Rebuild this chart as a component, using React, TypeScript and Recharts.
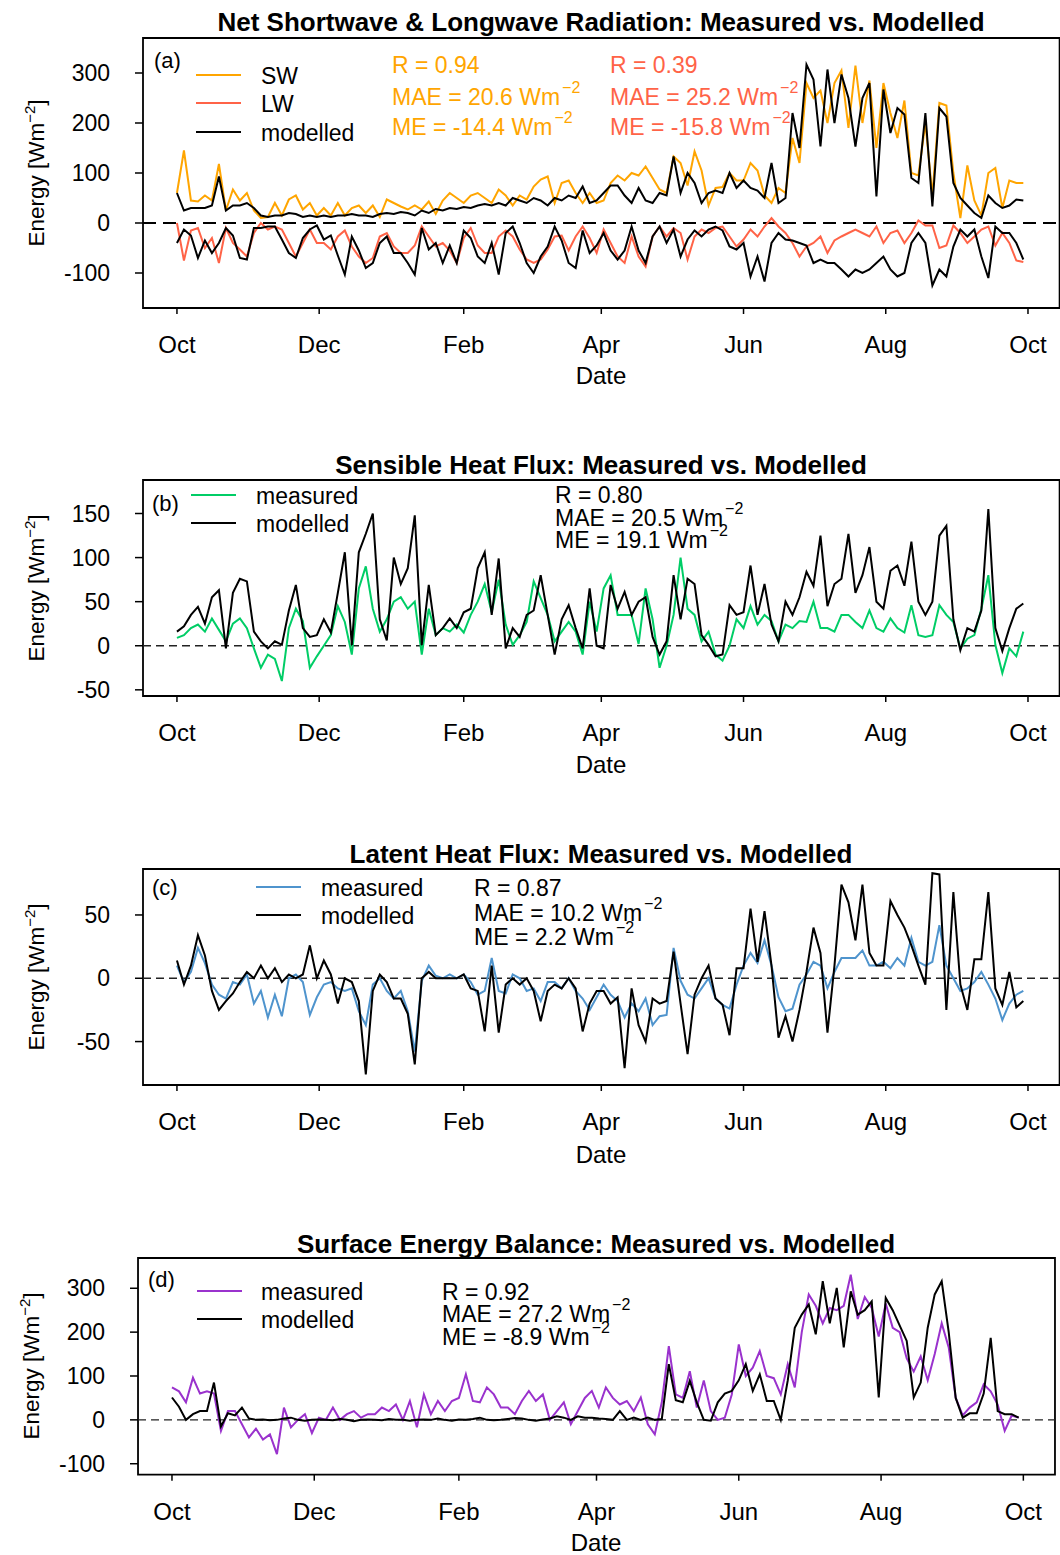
import React from 'react';
import { LineChart, Line, XAxis, YAxis, ReferenceLine, ReferenceArea } from 'recharts';

const FONT = '"Liberation Sans", Arial, Helvetica, sans-serif';

// x axis is day of the hydrological year, 1 Oct = 0
const X_MIN = -14.56;
const X_MAX = 378.56;
const MONTH_TICKS = [0, 61, 123, 182, 243, 304, 365];
const MONTH_LABELS = ['Oct', 'Dec', 'Feb', 'Apr', 'Jun', 'Aug', 'Oct'];
const DAYS = Array.from({ length: 122 }, (_, i) => i * 3);

// (a) net radiation [W m-2]
const SW_MEASURED = [
  60, 145, 45, 43, 55, 45, 118, 25, 67, 45,
  60, 25, 10, 12, 40, 15, 47, 55, 27, 40,
  15, 30, 15, 40, 15, 30, 35, 20, 35, 12,
  47, 40, 33, 27, 35, 27, 43, 18, 45, 60,
  50, 40, 55, 60, 50, 40, 67, 55, 35, 55,
  47, 73, 87, 93, 40, 80, 85, 60, 40, 60,
  40, 45, 80, 95, 85, 100, 95, 113, 90, 67,
  60, 133, 120, 75, 143, 105, 35, 70, 72, 100,
  85, 85, 120, 105, 55, 40, 70, 60, 170, 120,
  280, 250, 265, 200, 280, 305, 190, 315, 200, 285,
  150, 280, 220, 170, 245, 100, 95, 200, 55, 240,
  235, 100, 10, 115, 45, 15, 100, 110, 30, 85,
  80, 80,
];
const SW_MODELLED = [
  60, 25, 30, 30, 30, 35, 93, 25, 35, 35,
  40, 30, 15, 12, 15, 15, 20, 18, 12, 15,
  12, 15, 12, 15, 15, 18, 15, 15, 12, 18,
  20, 18, 22, 20, 15, 25, 20, 28, 25, 30,
  28, 32, 30, 35, 38, 35, 40, 35, 50, 45,
  40, 50, 45, 35, 50, 45, 55, 50, 73, 40,
  45, 60, 75, 75, 55, 40, 70, 45, 40, 60,
  55, 133, 60, 100, 80, 40, 60, 65, 60, 100,
  70, 85, 70, 65, 50, 120, 40, 50, 220, 150,
  317, 287, 153, 307, 200, 297, 250, 153, 250, 280,
  53, 267, 180, 230, 217, 90, 80, 220, 33, 230,
  213, 80, 50, 35, 20, 10, 55, 40, 30, 35,
  47, 45,
];
const LW_MEASURED = [
  0, -75, -15, -10, -50, -30, -80, -10, -40, -53,
  -67, -20, 0, -13, -7, -13, -40, -67, -40, -13,
  -40, -40, -53, -27, -15, -47, -67, -80, -70, -27,
  -20, -47, -60, -60, -45, -7, -27, -47, -40, -55,
  -80, -30, -10, -45, -60, -60, -27, -15, -27, -53,
  -73, -80, -73, -53, -27, -25, -55, -27, -7, -30,
  -60, -13, -40, -67, -80, -27, -67, -87, -27, -7,
  -27, -10, -20, -73, -27, -13, -20, -10, -7, -27,
  -47, -33, -13, -27, -7, 10, -7, -20, -40, -67,
  -47, -40, -27, -60, -35, -27, -20, -13, -20, -27,
  -7, -40, -20, -15, -40, -20, 5, -5, -5, -50,
  -45, -5, -20, -40, -27, -13, -7, -45, -20, -40,
  -75, -78,
];
const LW_MODELLED = [
  -40, -13, -25, -70, -35, -60, -40, -10, -25, -70,
  -73, -10, -10, -7, -7, -33, -60, -70, -30, -13,
  -5, -33, -25, -65, -103, -27, -55, -90, -80, -40,
  -27, -60, -60, -80, -103, -10, -53, -40, -80, -45,
  -80, -15, -30, -67, -80, -40, -103, -20, -7, -40,
  -80, -100, -67, -47, -7, -35, -80, -90, -15, -60,
  -45, -20, -55, -73, -55, -7, -55, -80, -27, -7,
  -40, -13, -67, -33, -15, -27, -13, -7, -15, -47,
  -53, -40, -107, -67, -117, -40, -20, -33, -35, -40,
  -45, -80, -73, -80, -80, -93, -107, -93, -100, -93,
  -80, -67, -93, -107, -100, -40, -20, -40, -125, -93,
  -107, -47, -13, -27, -13, -67, -110, -7, -20, -20,
  -40, -73,
];

// (b) sensible heat flux
const SH_MEASURED = [
  9, 12, 20, 24, 16, 31, 18, 5, 25, 31,
  20, -3, -25, -10, -15, -40, 20, 42, 28, -25,
  -12, 0, 12, 45, 27, -10, 65, 90, 42, 16,
  30, 50, 55, 42, 50, -10, 42, 12, 20, 16,
  24, 15, 35, 50, 70, 38, 75, 24, 1, 12,
  27, 73, 54, 35, 5, 16, 27, 16, -10, 50,
  16, 65, 80, 35, 35, 35, 2, 65, 30, -25,
  0, 35, 100, 42, 35, 5, 16, -10, -17, 0,
  30, 20, 45, 24, 35, 28, 5, 24, 20, 28,
  27, 50, 20, 20, 16, 35, 35, 27, 20, 40,
  20, 16, 31, 20, 15, 46, 12, 10, 12, 46,
  35, 27, -3, 8, 12, 42, 80, 1, -31, -3,
  -12, 16,
];
const SH_MODELLED = [
  16, 22, 35, 44, 25, 55, 63, -3, 60, 76,
  73, 16, 5, -3, 5, 1, 40, 69, 20, 10,
  12, 30, 15, 60, 106, 1, 106, 127, 150, 30,
  6, 100, 70, 88, 148, 1, 69, 12, 20, 31,
  20, 38, 42, 88, 106, 35, 99, -3, 20, 10,
  35, 40, 80, 35, -10, 30, 46, 20, -3, 65,
  0, -3, 69, 42, 61, 35, 50, 55, 10, -10,
  5, 80, 30, 76, 70, 12, 1, -12, -10, 46,
  35, 38, 91, 35, 70, 24, 5, 50, 35, 55,
  84, 68, 125, 45, 70, 76, 127, 60, 80, 112,
  50, 42, 85, 91, 68, 118, 50, 35, 50, 125,
  136, 30, -5, 20, 16, 40, 155, 20, -6, 20,
  42, 48,
];

// (c) latent heat flux
const LH_MEASURED = [
  10, -3, 5, 24, 12, -5, -13, -16, -3, -5,
  3, -20, -10, -31, -13, -30, 0, 3, -3, -29,
  -15, -5, -3, -8, -10, -8, -26, -37, -5, 0,
  -10, -16, -10, -26, -58, -2, 10, 2, 0, 3,
  0, 3, -3, -13, -10, 16, -10, -12, 3, 0,
  -10, -8, -18, -3, -3, -8, 0, -10, -16, -25,
  -15, -5, -13, -18, -31, -20, -26, -16, -37, -30,
  -29, 24, -2, -13, -16, -8, 0, -16, -21, -24,
  -5, 10, 20, 12, 30, 10, -15, -26, -24, -5,
  3, 13, 10, -8, 5, 16, 16, 16, 22, 10,
  10, 13, 8, 16, 10, 32, 13, 10, 13, 42,
  10, 0, -10, -8, -3, 5, -5, -16, -33, -20,
  -13, -10,
];
const LH_MODELLED = [
  14, -5, 10, 34, 18, -10, -25, -18, -12, -3,
  5, 0, 10, 0, 8, -3, 3, 0, 3, 26,
  0, 14, 3, -20, 0, -3, -18, -76, -10, 3,
  -3, -16, -16, -28, -68, 0, 5, 0, 0, 0,
  0, 3, -8, -10, -42, 10, -43, -5, 0, -5,
  0, -10, -34, -10, -5, -8, 0, -8, -42, -20,
  -10, -10, -20, -15, -71, -8, -37, -50, -16, -20,
  -18, 21, -20, -60, -13, 0, 10, -16, -21, -45,
  8, 8, 55, 13, 53, 10, -47, -30, -50, -25,
  5, 40, 20, -43, 10, 74, 60, 30, 74, 20,
  10, 10, 61, 50, 40, 26, 10, -5, 83, 82,
  -25, 68, -5, -25, 15, 15, 68, -8, -21, 5,
  -23, -18,
];

// (d) surface energy balance
const SEB_MEASURED = [
  74, 65, 40, 96, 60, 65, 60, -25, 20, 20,
  -10, -40, -20, -45, -33, -78, 28, -17, 0, 13,
  -30, 5, 0, 28, 0, 13, 20, 5, 13, 13,
  28, 20, 35, 0, 43, -17, 58, 13, 43, 20,
  43, 50, 104, 43, 40, 74, 58, 28, 28, 13,
  43, 66, 43, 58, 0, 20, 40, -10, 20, 50,
  66, 28, 74, 50, 35, 43, 20, 51, -10, -33,
  40, 168, 58, 50, 111, 28, 90, 20, 0, 5,
  58, 172, 100, 119, 157, 100, 95, 58, 127, 74,
  200, 286, 260, 220, 255, 250, 260, 331, 230, 280,
  255, 190, 265, 210, 200, 140, 110, 145, 90, 150,
  220, 165, 50, 10, 28, 40, 81, 65, 35, -25,
  10, 5,
];
const SEB_MODELLED = [
  51, 30, 0, 13, 20, 20, 85, -15, 15, 10,
  28, 3, 0, 1, -1, 0, 3, 5, 0, -2,
  0, 1, 0, -1, 2, 0, -3, 0, 1, 0,
  -1, 2, 0, 0, -2, 0, 1, 0, 3, 0,
  -2, 1, 0, 2, 5, 0, -1, 0, 2, 4,
  3, 0, -2, 1, 3, 8, 5, 0, 8, 5,
  5, 3, 2, 0, 20, 0, 5, 0, 5, 0,
  2, 127, 45, 40, 89, 40, 0, -2, 40, 60,
  66, 90, 127, 66, 104, 43, 43, 0, 90, 210,
  240, 263, 195, 316, 220, 301, 165, 293, 240, 250,
  270, 51, 278, 250, 215, 180, 51, 85, 210, 286,
  316, 200, 50, 5, 15, 15, 60, 187, 20, 13,
  13, 5,
];

const ORANGE = '#FFA500';
const TOMATO = '#FF6347';
const GREEN = '#00CD66';
const BLUE = '#4F94CD';
const PURPLE = '#9A32CD';

type Series = { key: string; values: number[]; color: string };

type PanelProps = {
  top: number;
  bottom: number;
  left: number;
  right: number;
  yDomain: [number, number];
  yTicks: number[];
  series: Series[];
  zeroDash: string;
  zeroWidth: number;
  zeroColor: string;
};

const PAD_TOP = 20;
const PAD_BOTTOM = 60;
const X_AXIS_H = 50;
const Y_AXIS_W = 100;

function Panel({ top, bottom, left, right, yDomain, yTicks, series, zeroDash, zeroWidth, zeroColor }: PanelProps) {
  const data = DAYS.map((day, i) => {
    const row: Record<string, number> = { day };
    series.forEach((s) => {
      row[s.key] = s.values[i];
    });
    return row;
  });
  const height = bottom - top + PAD_TOP + PAD_BOTTOM;

  return (
    <div style={{ position: 'absolute', left: 0, top: top - PAD_TOP }}>
      <LineChart
        width={1060}
        height={height}
        data={data}
        margin={{ top: PAD_TOP, right: 1060 - right, bottom: PAD_BOTTOM - X_AXIS_H, left: left - Y_AXIS_W }}
      >
        <XAxis
          type="number"
          dataKey="day"
          domain={[X_MIN, X_MAX]}
          allowDataOverflow
          ticks={MONTH_TICKS}
          interval={0}
          tickFormatter={(v: number) => MONTH_LABELS[MONTH_TICKS.indexOf(v)]}
          axisLine={false}
          tickLine={{ stroke: '#000', strokeWidth: 1.5 }}
          tickSize={6}
          tickMargin={22}
          height={X_AXIS_H}
          tick={{ fill: '#000', fontSize: 24, fontFamily: FONT }}
        />
        <YAxis
          type="number"
          domain={yDomain}
          allowDataOverflow
          ticks={yTicks}
          interval={0}
          axisLine={false}
          tickLine={{ stroke: '#000', strokeWidth: 1.5 }}
          tickSize={8}
          tickMargin={25}
          width={Y_AXIS_W}
          tick={{ fill: '#000', fontSize: 23, fontFamily: FONT }}
        />
        <ReferenceLine y={0} stroke={zeroColor} strokeWidth={zeroWidth} strokeDasharray={zeroDash} />
        {series.map((s) => (
          <Line
            key={s.key}
            type="linear"
            dataKey={s.key}
            stroke={s.color}
            strokeWidth={2}
            dot={false}
            activeDot={false}
            isAnimationActive={false}
          />
        ))}
        <ReferenceArea
          x1={X_MIN}
          x2={X_MAX}
          y1={yDomain[0]}
          y2={yDomain[1]}
          fill="none"
          fillOpacity={0}
          stroke="#000"
          strokeWidth={1.8}
          ifOverflow="visible"
        />
      </LineChart>
    </div>
  );
}

// text with a W m^-2 unit and raised exponent
function Wm({ x, y, text, color = '#000', size = 23 }: { x: number; y: number; text: string; color?: string; size?: number }) {
  return (
    <text x={x} y={y} fill={color} fontSize={size} fontFamily={FONT}>
      {text} Wm
      <tspan dx={2} dy={-12} fontSize={16}>
        {'\u22122'}
      </tspan>
    </text>
  );
}

function Legend({ x, lineX, ys, items }: { x: number; lineX: number; ys: number[]; items: { label: string; color: string }[] }) {
  return (
    <g>
      {items.map((it, i) => (
        <g key={it.label}>
          <line x1={lineX} x2={lineX + 45} y1={ys[i]} y2={ys[i]} stroke={it.color} strokeWidth={2} />
          <text x={x} y={ys[i] + 8.5} fontSize={23} fontFamily={FONT} fill="#000">
            {it.label}
          </text>
        </g>
      ))}
    </g>
  );
}

function YLabel({ x, y }: { x: number; y: number }) {
  return (
    <text
      transform={`translate(${x},${y}) rotate(-90)`}
      textAnchor="middle"
      fontSize={22.5}
      fontFamily={FONT}
      fill="#000"
    >
      Energy [Wm
      <tspan dy={-9} fontSize={15}>
        {'\u22122'}
      </tspan>
      <tspan dy={9} fontSize={22.5}>
        ]
      </tspan>
    </text>
  );
}

function Labels() {
  const title = { fontSize: 26, fontWeight: 700, fontFamily: FONT, fill: '#000', textAnchor: 'middle' as const };
  const plain = { fontSize: 22, fontFamily: FONT, fill: '#000' };
  const axisTitle = { fontSize: 24, fontFamily: FONT, fill: '#000', textAnchor: 'middle' as const };
  return (
    <svg width={1060} height={1555} style={{ position: 'absolute', left: 0, top: 0, pointerEvents: 'none' }}>
      <text x={601} y={31} {...title}>Net Shortwave &amp; Longwave Radiation: Measured vs. Modelled</text>
      <text x={601} y={474} {...title}>Sensible Heat Flux: Measured vs. Modelled</text>
      <text x={601} y={863} {...title}>Latent Heat Flux: Measured vs. Modelled</text>
      <text x={596} y={1253} {...title}>Surface Energy Balance: Measured vs. Modelled</text>

      <text x={601} y={384} {...axisTitle}>Date</text>
      <text x={601} y={773} {...axisTitle}>Date</text>
      <text x={601} y={1163} {...axisTitle}>Date</text>
      <text x={596} y={1551} {...axisTitle}>Date</text>

      <YLabel x={44} y={173} />
      <YLabel x={44} y={588} />
      <YLabel x={44} y={977} />
      <YLabel x={39} y={1366} />

      {/* (a) */}
      <text x={154} y={68} {...plain}>(a)</text>
      <Legend
        x={261}
        lineX={196}
        ys={[75, 103, 132]}
        items={[
          { label: 'SW', color: ORANGE },
          { label: 'LW', color: TOMATO },
          { label: 'modelled', color: '#000' },
        ]}
      />
      <text x={392} y={73} fontSize={23} fontFamily={FONT} fill={ORANGE}>R = 0.94</text>
      <Wm x={392} y={105} text="MAE = 20.6" color={ORANGE} />
      <Wm x={392} y={135} text="ME = -14.4" color={ORANGE} />
      <text x={610} y={73} fontSize={23} fontFamily={FONT} fill={TOMATO}>R = 0.39</text>
      <Wm x={610} y={105} text="MAE = 25.2" color={TOMATO} />
      <Wm x={610} y={135} text="ME = -15.8" color={TOMATO} />

      {/* (b) */}
      <text x={152} y={511} {...plain}>(b)</text>
      <Legend
        x={256}
        lineX={191}
        ys={[495, 523]}
        items={[
          { label: 'measured', color: GREEN },
          { label: 'modelled', color: '#000' },
        ]}
      />
      <text x={555} y={503} fontSize={23} fontFamily={FONT} fill="#000">R = 0.80</text>
      <Wm x={555} y={526} text="MAE = 20.5" />
      <Wm x={555} y={548} text="ME = 19.1" />

      {/* (c) */}
      <text x={152} y={895} {...plain}>(c)</text>
      <Legend
        x={321}
        lineX={256}
        ys={[887, 915]}
        items={[
          { label: 'measured', color: BLUE },
          { label: 'modelled', color: '#000' },
        ]}
      />
      <text x={474} y={896} fontSize={23} fontFamily={FONT} fill="#000">R = 0.87</text>
      <Wm x={474} y={921} text="MAE = 10.2" />
      <Wm x={474} y={945} text="ME = 2.2" />

      {/* (d) */}
      <text x={148} y={1287} {...plain}>(d)</text>
      <Legend
        x={261}
        lineX={197}
        ys={[1291, 1319]}
        items={[
          { label: 'measured', color: PURPLE },
          { label: 'modelled', color: '#000' },
        ]}
      />
      <text x={442} y={1300} fontSize={23} fontFamily={FONT} fill="#000">R = 0.92</text>
      <Wm x={442} y={1322} text="MAE = 27.2" />
      <Wm x={442} y={1345} text="ME = -8.9" />
    </svg>
  );
}

export default function App() {
  return (
    <div style={{ position: 'absolute', left: 0, top: 0, width: 1060, height: 1555, background: '#fff', fontFamily: FONT }}>
      <Panel
        top={38.3}
        bottom={308.3}
        left={143}
        right={1059.6}
        yDomain={[-170, 370]}
        yTicks={[-100, 0, 100, 200, 300]}
        series={[
          { key: 'sw', values: SW_MEASURED, color: ORANGE },
          { key: 'lw', values: LW_MEASURED, color: TOMATO },
          { key: 'swMod', values: SW_MODELLED, color: '#000' },
          { key: 'lwMod', values: LW_MODELLED, color: '#000' },
        ]}
        zeroDash="13 7"
        zeroWidth={2}
        zeroColor="#000"
      />
      <Panel
        top={480}
        bottom={696}
        left={143}
        right={1059.6}
        yDomain={[-57, 188]}
        yTicks={[-50, 0, 50, 100, 150]}
        series={[
          { key: 'meas', values: SH_MEASURED, color: GREEN },
          { key: 'mod', values: SH_MODELLED, color: '#000' },
        ]}
        zeroDash="8 5"
        zeroWidth={1.3}
        zeroColor="#222"
      />
      <Panel
        top={869}
        bottom={1085}
        left={143}
        right={1059.6}
        yDomain={[-84.3, 86.3]}
        yTicks={[-50, 0, 50]}
        series={[
          { key: 'meas', values: LH_MEASURED, color: BLUE },
          { key: 'mod', values: LH_MODELLED, color: '#000' },
        ]}
        zeroDash="8 5"
        zeroWidth={1.3}
        zeroColor="#222"
      />
      <Panel
        top={1258.3}
        bottom={1475}
        left={138}
        right={1055}
        yDomain={[-125, 369]}
        yTicks={[-100, 0, 100, 200, 300]}
        series={[
          { key: 'meas', values: SEB_MEASURED, color: PURPLE },
          { key: 'mod', values: SEB_MODELLED, color: '#000' },
        ]}
        zeroDash="8 5"
        zeroWidth={1.3}
        zeroColor="#222"
      />
      <Labels />
    </div>
  );
}
